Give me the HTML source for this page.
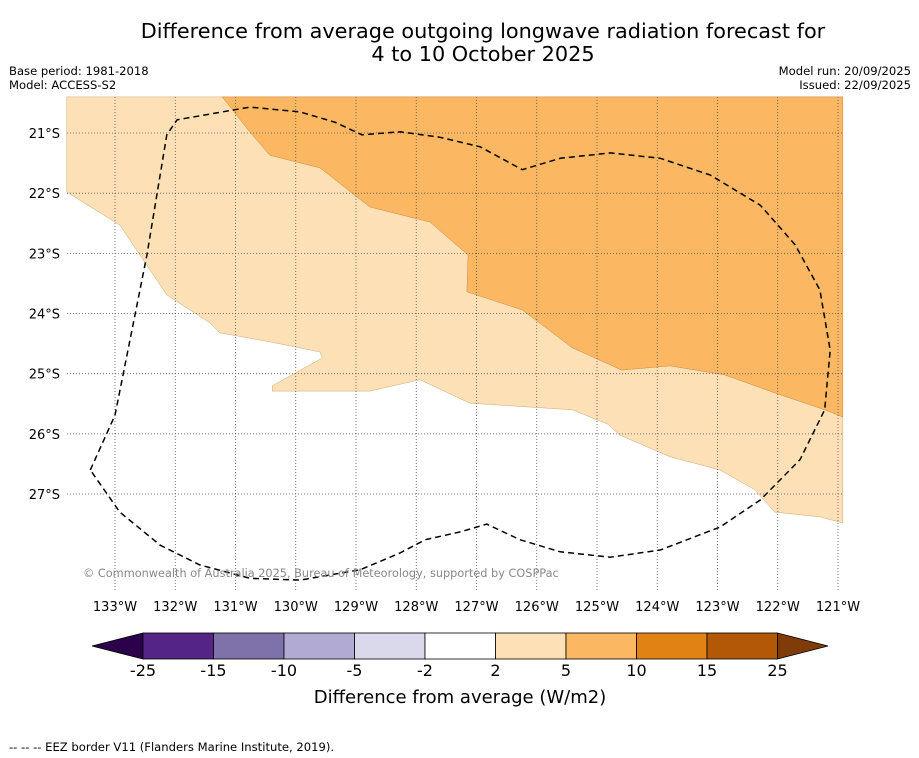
<!DOCTYPE html>
<html><head><meta charset="utf-8">
<style>
body{margin:0;background:#fff;width:919px;height:758px;overflow:hidden;font-family:"DejaVu Sans","Liberation Sans",sans-serif}
svg{display:block}
</style></head>
<body>
<svg id="chart" width="919" height="758" xmlns="http://www.w3.org/2000/svg">
<text x="483" y="38" text-anchor="middle" font-size="20.8">Difference from average outgoing longwave radiation forecast for</text>
<text x="483" y="61" text-anchor="middle" font-size="20.8">4 to 10 October 2025</text>
<text x="9" y="75" font-size="11.6">Base period: 1981-2018</text>
<text x="9" y="89" font-size="11.6">Model: ACCESS-S2</text>
<text x="911" y="75" font-size="11.6" text-anchor="end">Model run: 20/09/2025</text>
<text x="911" y="89" font-size="11.6" text-anchor="end">Issued: 22/09/2025</text>
<g id="map"></g>
<g id="cbar"></g>
<text x="460" y="703" text-anchor="middle" font-size="18">Difference from average (W/m2)</text>
<text x="9" y="751" font-size="11.6">--  --  -- EEZ border V11 (Flanders Marine Institute, 2019).</text>
</svg>
<script>
const lonTicks=[-133,-132,-131,-130,-129,-128,-127,-126,-125,-124,-123,-122,-121];
const latTicks=[-21,-22,-23,-24,-25,-26,-27];
const light=[[-133.8,-20.4],[-120.92,-20.4],[-120.92,-27.48],[-121.3,-27.38],[-122.05,-27.3],[-122.38,-26.93],[-122.96,-26.6],[-123.79,-26.38],[-124.62,-26.02],[-124.82,-25.84],[-125.41,-25.6],[-127.11,-25.49],[-127.94,-25.1],[-128.77,-25.29],[-130.39,-25.29],[-130.39,-25.2],[-129.56,-24.74],[-129.6,-24.64],[-130.43,-24.47],[-131.26,-24.32],[-131.42,-24.16],[-132.14,-23.69],[-132.92,-22.53],[-133.8,-21.98]];
const orange=[[-131.22,-20.4],[-120.92,-20.4],[-120.92,-25.72],[-121.22,-25.6],[-122.05,-25.32],[-122.88,-25.02],[-123.79,-24.87],[-124.59,-24.94],[-125.41,-24.57],[-126.24,-23.94],[-127.16,-23.64],[-127.14,-23.03],[-127.77,-22.48],[-128.77,-22.23],[-129.6,-21.58],[-130.43,-21.37],[-130.79,-20.95]];
const eez=[[-133.41,-26.6],[-133,-25.69],[-132.47,-23.03],[-132.14,-21.03],[-131.97,-20.78],[-130.76,-20.57],[-129.93,-20.65],[-129.35,-20.82],[-128.9,-21.03],[-128.27,-20.98],[-127.61,-21.07],[-126.94,-21.23],[-126.24,-21.61],[-125.61,-21.42],[-124.78,-21.33],[-123.95,-21.42],[-123.12,-21.7],[-122.29,-22.2],[-121.71,-22.86],[-121.3,-23.61],[-121.13,-24.61],[-121.22,-25.6],[-121.63,-26.43],[-122.29,-27.1],[-122.96,-27.55],[-123.95,-27.93],[-124.78,-28.05],[-125.61,-27.96],[-126.28,-27.76],[-126.83,-27.5],[-127.27,-27.63],[-127.85,-27.76],[-128.27,-27.98],[-128.93,-28.26],[-129.93,-28.43],[-130.76,-28.4],[-131.59,-28.18],[-132.25,-27.85],[-132.92,-27.3],[-133.41,-26.6]];
const cbLabels=["-25","-15","-10","-5","-2","2","5","10","15","25"];
const cbColors=["#552586","#7f72aa","#b1aad2","#d9d9eb","#ffffff","#fee0b6","#fbb762","#e08214","#b35806"];
const NS="http://www.w3.org/2000/svg";
const X=lon=>115+(lon+133)*60.25, Y=lat=>133+(-21-lat)*60.17;
const X0=67,X1=843,Y0=97,Y1=590;
const map=document.getElementById('map');
function mk(t,a,p){const e=document.createElementNS(NS,t);for(const k in a)e.setAttribute(k,a[k]);(p||map).appendChild(e);return e;}
const pts=a=>a.map(p=>X(p[0]).toFixed(1)+','+Y(p[1]).toFixed(1)).join(' ');
let e=mk('polygon',{points:pts(light),fill:'#fee0b6',stroke:'#c9a878','stroke-width':0.5});


e=mk('polygon',{points:pts(orange),fill:'#fbb762',stroke:'#c98a40','stroke-width':0.5});


lonTicks.forEach(l=>{
 const g=mk('line',{x1:X(l),x2:X(l),y1:Y0,y2:Y1,stroke:'#555','stroke-width':0.8,'stroke-dasharray':'1,2'});
 
 
 const t=mk('text',{x:X(l),y:611,'text-anchor':'middle','font-size':13});
 t.textContent=Math.abs(l)+'°W';
 
 
});
latTicks.forEach(l=>{
 const g=mk('line',{x1:X0,x2:X1,y1:Y(l),y2:Y(l),stroke:'#555','stroke-width':0.8,'stroke-dasharray':'1,2'});
 
 
 const t=mk('text',{x:60,y:Y(l)+5,'text-anchor':'end','font-size':13});
 t.textContent=Math.abs(l)+'°S';
 
 
});
e=mk('polyline',{points:pts(eez),fill:'none',stroke:'#000','stroke-width':1.5,'stroke-dasharray':'6,4'});


e=mk('text',{x:83,y:577,'font-size':11.3,fill:'#888'});
e.textContent='© Commonwealth of Australia 2025, Bureau of Meteorology, supported by COSPPac';


const cb=document.getElementById('cbar');
const cx0=143,cw=70.5,cy0=633,ch=26;
e=mk('polygon',{points:`${cx0},${cy0} ${cx0},${cy0+ch} 92,${cy0+ch/2}`,fill:'#2d004b',stroke:'#000','stroke-width':0.8},cb);


const cxe=cx0+cw*cbColors.length;
e=mk('polygon',{points:`${cxe},${cy0} ${cxe},${cy0+ch} 828,${cy0+ch/2}`,fill:'#7f3b08',stroke:'#000','stroke-width':0.8},cb);


cbColors.forEach((c,i)=>{
 const r=mk('rect',{x:cx0+i*cw,y:cy0,width:cw,height:ch,fill:c,stroke:'#000','stroke-width':0.8},cb);
 
 
});
cbLabels.forEach((s,i)=>{
 const t=mk('text',{x:cx0+i*cw,y:676,'text-anchor':'middle','font-size':16},cb);
 t.textContent=s;
 
 
});
</script>
</body></html>
